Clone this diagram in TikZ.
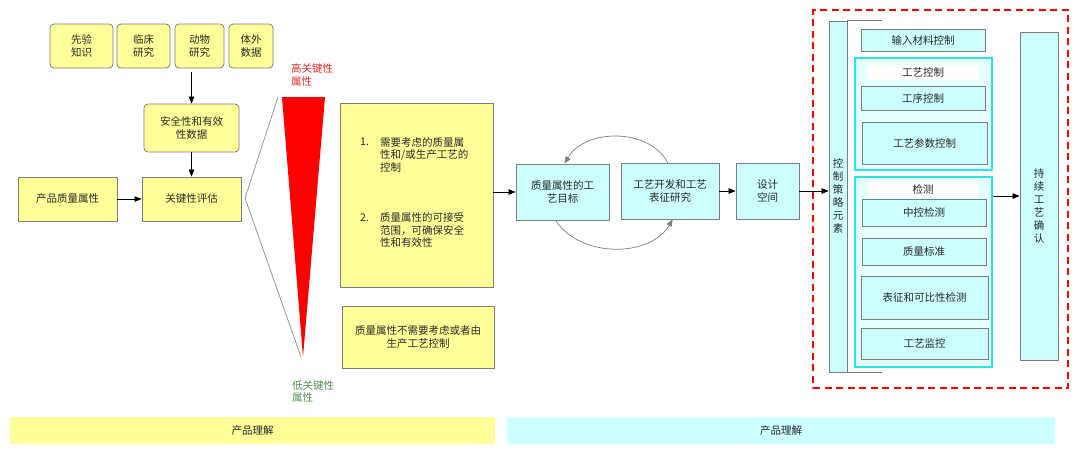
\documentclass[tikz,border=0pt]{standalone}
\usepackage{fontspec}
\newfontfamily\cjk{Noto Sans CJK SC}
\usetikzlibrary{arrows.meta,calc}
\definecolor{yel}{RGB}{255,255,153}
\definecolor{cya}{RGB}{204,255,255}
\definecolor{grp}{RGB}{40,228,228}
\definecolor{grpin}{RGB}{230,255,255}
\definecolor{bord}{RGB}{125,125,125}
\definecolor{txt}{RGB}{40,40,40}
\definecolor{hired}{RGB}{225,45,45}
\definecolor{logreen}{RGB}{85,140,85}
\begin{document}
\begin{tikzpicture}[x=1pt,y=-1pt,
  every node/.style={font=\cjk\fontsize{10.5}{12.5}\selectfont, text=txt, inner sep=0pt},
  ybox/.style={draw=bord, fill=yel, line width=0.8pt, align=center},
  rybox/.style={ybox, rounded corners=4pt},
  cbox/.style={draw=bord, fill=cya, line width=0.8pt, align=center},
  grpbox/.style={draw=grp, fill=grpin, line width=2.6pt},
  bar/.style={align=center, font=\cjk\fontsize{10.5}{12}\selectfont},
  arr/.style={draw=black, line width=0.6pt, -{Triangle[length=7pt,width=5.5pt]}},
  garr/.style={draw=bord, line width=0.7pt, -{Triangle[length=7pt,width=5.5pt]}},
  gline/.style={draw=bord!80, line width=0.8pt},
  vtext/.style={align=center, font=\cjk\fontsize{10.5}{13}\selectfont}
]
\useasboundingbox (0,0) rectangle (1080,459);

% ---------- left part ----------
\node[rybox, minimum width=63pt, minimum height=44pt] (b1) at (81.5,46) {先验\\知识};
\node[rybox, minimum width=53pt, minimum height=44pt] (b2) at (143.5,46) {临床\\研究};
\node[rybox, minimum width=49pt, minimum height=44pt] (b3) at (199.5,46) {动物\\研究};
\node[rybox, minimum width=44pt, minimum height=44pt] (b4) at (251,46) {体外\\数据};
\node[rybox, minimum width=95pt, minimum height=48pt] (safe) at (191.5,128) {安全性和有效\\性数据};
\node[ybox, minimum width=99pt, minimum height=44pt] (key) at (191.5,199) {关键性评估};
\node[ybox, minimum width=99pt, minimum height=44pt] (pqa) at (67.5,199) {产品质量属性};

\coordinate (src) at (191.5,72);
\draw[arr] (src) -- (safe.north);
\draw[arr] (safe.south) -- (key.north);
\draw[arr] (pqa.east) -- (key.west);

% ---------- criticality triangle ----------
\coordinate (kv) at (245,198);
\coordinate (ktop) at (278,97);
\coordinate (kbot) at (301,357);
\draw[gline] (ktop) -- (kv) -- (kbot);
\fill[red] (282,97) -- (325,97) -- (303,357) -- cycle;
\node[anchor=west, align=left, text=hired] (hi) at (291,75) {高关键性\\属性};
\node[anchor=west, align=left, text=logreen] (lo) at (292,391.5) {低关键性\\属性};

% ---------- yellow text boxes ----------
\node[ybox, minimum width=153pt, minimum height=184pt] (big) at (416.5,195) {};
\node[anchor=west] (n1) at (360,142) {1.};
\node[anchor=west, align=left] (t1) at (380,154.5) {需要考虑的质量属\\性和/或生产工艺的\\控制};
\node[anchor=west] (n2) at (360,218) {2.};
\node[anchor=west, align=left] (t2) at (380,230) {质量属性的可接受\\范围，可确保安全\\性和有效性};
\node[ybox, minimum width=152pt, minimum height=62pt] (small) at (418,337) {质量属性不需要考虑或者由\\生产工艺控制};

% ---------- middle cyan chain ----------
\node[cbox, minimum width=93pt, minimum height=56pt] (tgt) at (562.5,192) {质量属性的工\\艺目标};
\node[cbox, minimum width=98pt, minimum height=56pt] (dev) at (670,191) {工艺开发和工艺\\表征研究};
\node[cbox, minimum width=63pt, minimum height=56pt] (dsp) at (767.5,191) {设计\\空间};

\draw[arr] (tgt.west -| big.east) -- (tgt.west);
\draw[arr] (dev.east) -- (dsp.west);
\draw[garr] ([xshift=47pt]dev.north west) .. controls (650,128) and (585,128) .. ([xshift=49pt]tgt.north west);
\draw[garr] ([xshift=40pt]tgt.south west) .. controls (580,258) and (650,258) .. ([xshift=52pt]dev.south west);

% ---------- control strategy ----------
\node[draw=red, dashed, dash pattern=on 7pt off 4.5pt, line width=1.6pt, minimum width=255pt, minimum height=378pt] (frame) at (940.5,199) {};

\node[cbox, minimum width=18pt, minimum height=351pt] (ctl) at (838,196.5) {};
\node[vtext] (ctltext) at (838,195.5) {控\\制\\策\\略\\元\\素};
\draw[draw=bord, line width=0.8pt] ([xshift=35pt]ctl.north east) -- (ctl.north east) -- (ctl.south east) -- ++(35,0);
\draw[arr] (dsp.east) -- (ctl.west |- dsp.east);

\node[cbox, minimum width=124pt, minimum height=22pt] (inp) at (923,40) {输入材料控制};

\node[grpbox, minimum width=137pt, minimum height=112pt] (pc) at (923.5,114) {};
\node[fill=white, minimum width=110pt, minimum height=15pt] (pct) at (923,72) {工艺控制};
\node[cbox, minimum width=124pt, minimum height=24pt] (pc1) at (923,98) {工序控制};
\node[cbox, minimum width=125pt, minimum height=42pt] (pc2) at (924.5,143) {工艺参数控制};

\node[grpbox, minimum width=137pt, minimum height=190pt] (det) at (923.5,272) {};
\node[fill=white, minimum width=110pt, minimum height=15pt] (dett) at (923,189) {检测};
\node[cbox, minimum width=124pt, minimum height=27pt] (d1) at (924,212.5) {中控检测};
\node[cbox, minimum width=124pt, minimum height=27pt] (d2) at (924,251.5) {质量标准};
\node[cbox, minimum width=127pt, minimum height=43pt] (d3) at (924.5,297.5) {表征和可比性检测};
\node[cbox, minimum width=127pt, minimum height=31pt] (d4) at (924.5,343.5) {工艺监控};

\node[cbox, minimum width=38pt, minimum height=328pt] (cpv) at (1039,196) {};
\node[vtext] (cpvtext) at (1039,206) {持\\续\\工\\艺\\确\\认};
\draw[arr] (cpv.west -| det.east) -- (cpv.west);

% ---------- bottom bars ----------
\node[bar, fill=yel, minimum width=485pt, minimum height=27pt] (bar1) at (252.5,430.5) {产品理解};
\node[bar, fill=cya, minimum width=548pt, minimum height=27pt] (bar2) at (781,430.5) {产品理解};
\end{tikzpicture}
\end{document}
